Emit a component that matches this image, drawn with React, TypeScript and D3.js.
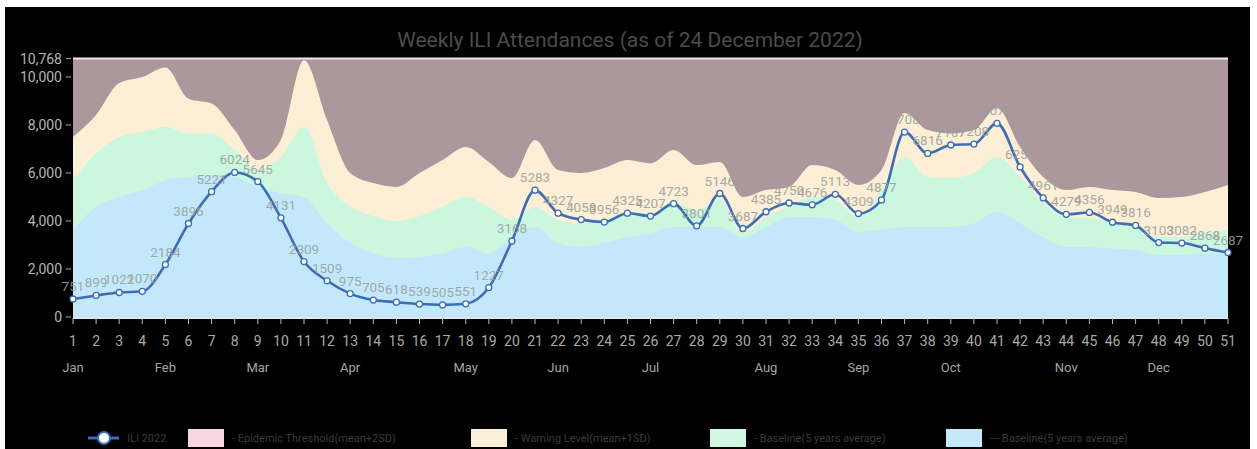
import React from "react";
import * as d3 from "d3";

// weeks of 2022 (x categories)
const weeks = [1, 2, 3, 4, 5, 6, 7, 8, 9, 10, 11, 12, 13, 14, 15, 16, 17, 18, 19, 20, 21, 22, 23, 24, 25, 26,
  27, 28, 29, 30, 31, 32, 33, 34, 35, 36, 37, 38, 39, 40, 41, 42, 43, 44, 45, 46, 47, 48, 49, 50, 51];

// month label shown under its first week
const monthLabels = ["Jan", "Feb", "Mar", "Apr", "May", "Jun", "Jul", "Aug", "Sep", "Oct", "Nov", "Dec"];
const monthWeeks = [1, 5, 9, 13, 18, 22, 26, 31, 35, 39, 44, 48];

const ili2022 = [751, 899, 1022, 1070, 2184, 3896, 5221, 6024, 5645, 4131,
  2309, 1509, 975, 705, 618, 539, 505, 551, 1227, 3168,
  5283, 4327, 4058, 3956, 4325, 4207, 4723, 3801, 5146, 3687,
  4385, 4750, 4676, 5113, 4309, 4877, 7708, 6816, 7167, 7208,
  8070, 6253, 4961, 4279, 4356, 3949, 3816, 3103, 3082, 2868, 2687];

const warningLevel = [7510, 8420, 9750, 10000, 10400, 9100, 8900, 7790, 6540, 7375,
  10700, 8200, 6000, 5580, 5420, 6000, 6540, 7080, 6460, 5790,
  7375, 6125, 6000, 6210, 6540, 6400, 6960, 6330, 6460, 5000,
  5290, 5420, 6330, 6125, 5500, 6125, 8500, 7790, 7650, 7790,
  8700, 7080, 5830, 5290, 5420, 5290, 5210, 4960, 5000, 5210, 5500];

const baselineUpper = [5700, 6820, 7500, 7710, 7920, 7650, 7650, 6960, 6125, 6670,
  7920, 5580, 4600, 4200, 4000, 4200, 4600, 5000, 4580, 4040,
  4580, 4040, 3900, 4040, 4330, 4330, 4750, 4460, 4875, 3500,
  4170, 4580, 5000, 4875, 4170, 5290, 6670, 5830, 5790, 6000,
  6670, 5830, 4750, 4170, 4125, 3960, 3750, 3330, 3330, 3500, 3625];

const baseline = [3625, 4580, 5000, 5290, 5700, 5830, 5920, 5830, 5420, 5170,
  5000, 3900, 3080, 2650, 2460, 2500, 2650, 2920, 2650, 3330,
  3750, 3080, 2920, 3080, 3330, 3500, 3750, 3750, 3750, 3300,
  3750, 4170, 4170, 4040, 3540, 3625, 3750, 3750, 3750, 3900,
  4375, 3900, 3330, 2920, 2920, 2850, 2790, 2580, 2580, 2650, 2650];

const yMax = 10768;
const yTicks = [0, 2000, 4000, 6000, 8000, 10000, 10768];

const legendItems = [
  { label: "ILI 2022", x: 88, kind: "line", color: "#3d6db5" },
  { label: "- Epidemic Threshold(mean+2SD)", x: 188, kind: "box", color: "#f8d6e1" },
  { label: "- Warning Level(mean+1SD)", x: 471, kind: "box", color: "#fcefd7" },
  { label: "- Baseline(5 years average)", x: 710, kind: "box", color: "#d2f7e2" },
  { label: "--- Baseline(5 years average)", x: 946, kind: "box", color: "#c6e8fb" },
];

const W = 1257, H = 449;
const font = "Roboto, 'Open Sans', sans-serif";

export default function App() {
  const x = d3.scaleLinear().domain([1, 51]).range([73, 1228]);
  const y = d3.scaleLinear().domain([0, yMax]).range([317, 58.6]);
  const curve = d3.curveMonotoneX;

  const areaOf = (vals: number[]) =>
    d3.area<number>()
      .x((d, i) => x(weeks[i]))
      .y0(y(0))
      .y1((d) => y(d))
      .curve(curve)(vals) as string;

  const line = d3.line<number>()
    .x((d, i) => x(weeks[i]))
    .y((d) => y(d))
    .curve(curve);

  return (
    <svg width={W} height={H} style={{ position: "absolute", left: 0, top: 0 }}>
      <rect x={0} y={0} width={W} height={H} fill="#fff" />
      <rect x={5} y={7} width={1245} height={H - 7} fill="#000" />

      <text x={630} y={47} textAnchor="middle" fontFamily={font} fontSize={21} fill="#4b4b4b">
        Weekly ILI Attendances (as of 24 December 2022)
      </text>

      {/* epidemic threshold band fills up to the axis max */}
      <rect x={x(1)} y={y(yMax)} width={x(51) - x(1)} height={y(0) - y(yMax)} fill="#ab979c" />
      <line x1={x(1)} x2={x(51)} y1={y(yMax)} y2={y(yMax)} stroke="#f4e6ea" strokeWidth={2} />
      <path d={areaOf(warningLevel)} fill="#fdeed6" />
      <path d={areaOf(baselineUpper)} fill="#cbf7df" />
      <path d={areaOf(baseline)} fill="#c3e8fb" />

      {/* x axis */}
      <line x1={x(1)} x2={x(51)} y1={y(0) + 1} y2={y(0) + 1} stroke="#dfe8ee" strokeWidth={2} />
      {weeks.map((w) => (
        <g key={"w" + w}>
          <line x1={x(w)} x2={x(w)} y1={y(0) + 1} y2={y(0) + 7} stroke="#bbb" strokeWidth={1} />
          <text x={x(w)} y={346} textAnchor="middle" fontFamily={font} fontSize={14} fill="#a9a9a9">{w}</text>
        </g>
      ))}
      {monthLabels.map((m, i) => (
        <text key={m} x={x(monthWeeks[i])} y={372} textAnchor="middle" fontFamily={font} fontSize={13} fill="#a5a5a5">{m}</text>
      ))}

      {/* y axis */}
      {yTicks.map((t) => (
        <g key={"t" + t}>
          <line x1={66} x2={71} y1={y(t)} y2={y(t)} stroke="#aaa" />
          <text x={62} y={y(t) + 5} textAnchor="end" fontFamily={font} fontSize={14} fill="#b5b5b5">
            {d3.format(",")(t)}
          </text>
        </g>
      ))}

      {/* ILI 2022 line */}
      <path d={line(ili2022) as string} fill="none" stroke="#3d6db5" strokeWidth={2.6} />
      {ili2022.map((v, i) => (
        <circle key={"p" + i} cx={x(weeks[i])} cy={y(v)} r={3} fill="#fff" stroke="#3d6db5" strokeWidth={1.3} />
      ))}
      {ili2022.map((v, i) => (
        <text key={"l" + i} x={x(weeks[i])} y={y(v) - 8} textAnchor="middle" fontFamily={font} fontSize={13.5}
          fill="#9a9f9b" fillOpacity={0.9}>
          {v}
        </text>
      ))}

      {/* legend */}
      {legendItems.map((it) => (
        <g key={it.label + it.x}>
          {it.kind === "line" ? (
            <g>
              <line x1={it.x} x2={it.x + 31} y1={438} y2={438} stroke={it.color} strokeWidth={3} />
              <circle cx={it.x + 16} cy={438} r={6} fill="#fff" stroke={it.color} strokeWidth={2} />
            </g>
          ) : (
            <rect x={it.x} y={429} width={36} height={18} fill={it.color} />
          )}
          <text x={it.x + (it.kind === "line" ? 39 : 44)} y={442} fontFamily={font} fontSize={11} fill="#3a3a3a">
            {it.label}
          </text>
        </g>
      ))}
    </svg>
  );
}
